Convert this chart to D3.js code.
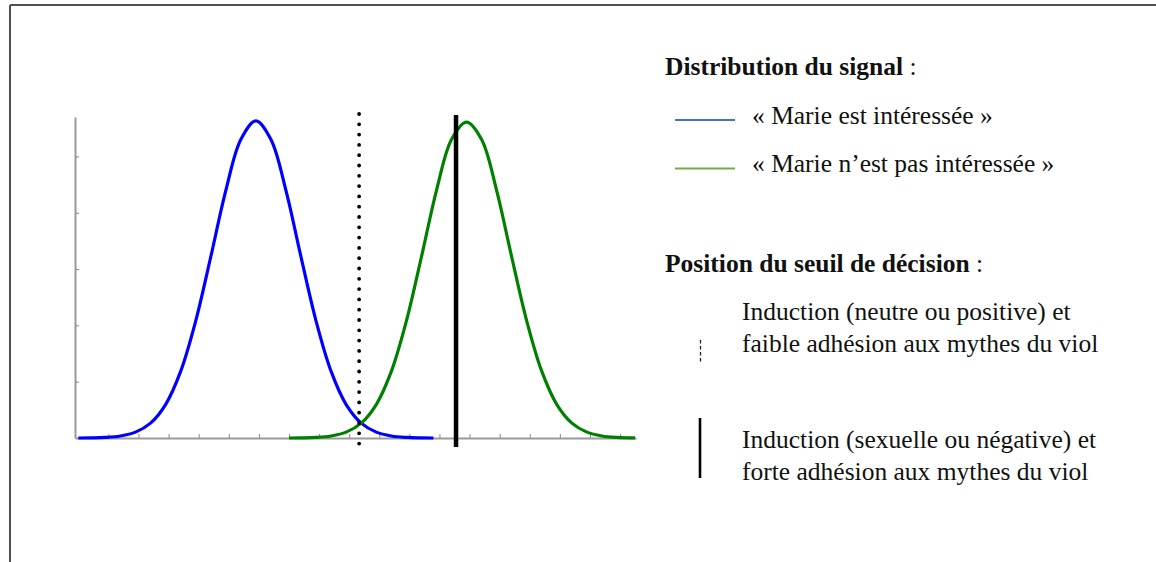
<!DOCTYPE html>
<html>
<head>
<meta charset="utf-8">
<script src="https://cdn.jsdelivr.net/npm/d3@7"></script>
<style>
  html, body { margin: 0; padding: 0; background: #fff; }
  svg { display: block; }
  text { font-family: "Liberation Serif", "Times New Roman", serif; fill: #111; }
</style>
</head>
<body>
<svg id="chart" width="1156" height="562"></svg>
<script>
// ---- Data ----
const xTicks = [1, 2, 3, 4, 5, 6, 7, 8, 9, 10, 11, 12, 13, 14, 15, 16, 17, 18];
const yTicks = [0.05, 0.10, 0.15, 0.20, 0.25];

// Signal distribution "Marie est intéressée" (blue)
const blueX = [0, 0.4, 0.9, 1.4, 1.9, 2.4, 2.9, 3.4, 3.9, 4.4, 4.9, 5.4, 5.9,
               6.4, 6.9, 7.4, 7.9, 8.4, 8.9, 9.4, 9.9, 10.4, 10.9, 11.4, 11.8];
const blueY = [0.0000, 0.0001, 0.0005, 0.0018, 0.0052, 0.0132, 0.0297, 0.0591, 0.1038, 0.1607, 0.2197, 0.2650, 0.2815,
               0.2650, 0.2197, 0.1607, 0.1038, 0.0591, 0.0297, 0.0132, 0.0052, 0.0018, 0.0005, 0.0001, 0.0000];

// Signal distribution "Marie n'est pas intéressée" (green)
const greenX = [7.0, 7.4, 7.9, 8.4, 8.9, 9.4, 9.9, 10.4, 10.9, 11.4, 11.9, 12.4, 12.9,
                13.4, 13.9, 14.4, 14.9, 15.4, 15.9, 16.4, 16.9, 17.4, 17.9, 18.5];
const greenY = [0.0000, 0.0001, 0.0005, 0.0018, 0.0052, 0.0132, 0.0297, 0.0591, 0.1038, 0.1607, 0.2197, 0.2650, 0.2805,
                0.2650, 0.2197, 0.1607, 0.1038, 0.0591, 0.0297, 0.0132, 0.0052, 0.0018, 0.0005, 0.0001];

// Decision thresholds
const thresholdNames = ["faible", "forte"];
const thresholdX = [9.33, 12.55];

// Legend texts
const legendTitle1 = "Distribution du signal";
const legendSeries = ["« Marie est intéressée »", "« Marie n’est pas intéressée »"];
const legendTitle2 = "Position du seuil de décision";
const legendThreshold1 = ["Induction (neutre ou positive) et", "faible adhésion aux mythes du viol"];
const legendThreshold2 = ["Induction (sexuelle ou négative) et", "forte adhésion aux mythes du viol"];

// ---- Drawing ----
const svg = d3.select("#chart");

// Frame (top and left edges visible)
svg.append("line").attr("x1", 10).attr("y1", 5).attr("x2", 1156).attr("y2", 5)
  .attr("stroke", "#505050").attr("stroke-width", 2);
svg.append("line").attr("x1", 10).attr("y1", 5).attr("x2", 10).attr("y2", 562)
  .attr("stroke", "#505050").attr("stroke-width", 2);

const x = d3.scaleLinear().domain([-0.11, 18.53]).range([75, 636]);
const y = d3.scaleLinear().domain([0, 0.285]).range([438, 117]);

const axisColor = "#9a9a9a";
const gx = svg.append("g").attr("transform", `translate(0,${y(0)})`)
  .call(d3.axisBottom(x).tickValues(xTicks).tickSizeInner(-4).tickSizeOuter(0).tickFormat(""));
const gy = svg.append("g").attr("transform", `translate(${x.range()[0]},0)`)
  .call(d3.axisLeft(y).tickValues(yTicks).tickSizeInner(-4).tickSizeOuter(0).tickFormat(""));
[gx, gy].forEach(g => {
  g.select(".domain").attr("stroke", axisColor).attr("stroke-width", 2);
  g.selectAll(".tick line").attr("stroke", "#888").attr("stroke-width", 1);
});

const line = d3.line().x(d => x(d[0])).y(d => y(d[1])).curve(d3.curveCatmullRom.alpha(0.5));

svg.append("path").datum(blueX.map((v, i) => [v, blueY[i]]))
  .attr("d", line).attr("fill", "none").attr("stroke", "#0000ff").attr("stroke-width", 3.2)
  .attr("stroke-linejoin", "round");
svg.append("path").datum(greenX.map((v, i) => [v, greenY[i]]))
  .attr("d", line).attr("fill", "none").attr("stroke", "#008000").attr("stroke-width", 3.2)
  .attr("stroke-linejoin", "round");

// Threshold lines
svg.append("line")
  .attr("x1", x(thresholdX[0])).attr("x2", x(thresholdX[0]))
  .attr("y1", 114).attr("y2", 444)
  .attr("stroke", "#000").attr("stroke-width", 3.8)
  .attr("stroke-linecap", "round").attr("stroke-dasharray", "0 10.3");
svg.append("line")
  .attr("x1", x(thresholdX[1])).attr("x2", x(thresholdX[1]))
  .attr("y1", 115).attr("y2", 447)
  .attr("stroke", "#000").attr("stroke-width", 4.5);

// ---- Legend ----
const fs = 25.5;
const t1 = svg.append("text").attr("x", 665).attr("y", 75).style("font-size", fs + "px");
t1.append("tspan").attr("font-weight", "bold").text(legendTitle1);
t1.append("tspan").text(" :");

const legColors = ["#4472c4", "#70ad47"];
const legY = [120, 168.5];
const legTextY = [123.5, 172];
legendSeries.forEach((s, i) => {
  svg.append("line").attr("x1", 675).attr("x2", 735).attr("y1", legY[i]).attr("y2", legY[i])
    .attr("stroke", legColors[i]).attr("stroke-width", 2.2);
  svg.append("text").attr("x", 752).attr("y", legTextY[i]).style("font-size", fs + "px").text(s);
});

const t2 = svg.append("text").attr("x", 665).attr("y", 272).style("font-size", fs + "px");
t2.append("tspan").attr("font-weight", "bold").text(legendTitle2);
t2.append("tspan").text(" :");

svg.append("line").attr("x1", 700.5).attr("x2", 700.5).attr("y1", 340).attr("y2", 364)
  .attr("stroke", "#222").attr("stroke-width", 1.3).attr("stroke-dasharray", "3.5 2.5");
legendThreshold1.forEach((s, i) => {
  svg.append("text").attr("x", 742).attr("y", 320 + i * 31.7).style("font-size", fs + "px").text(s);
});

svg.append("line").attr("x1", 700).attr("x2", 700).attr("y1", 418).attr("y2", 478)
  .attr("stroke", "#000").attr("stroke-width", 2.6);
legendThreshold2.forEach((s, i) => {
  svg.append("text").attr("x", 742).attr("y", 448.3 + i * 31.7).style("font-size", fs + "px").text(s);
});
</script>
</body>
</html>
